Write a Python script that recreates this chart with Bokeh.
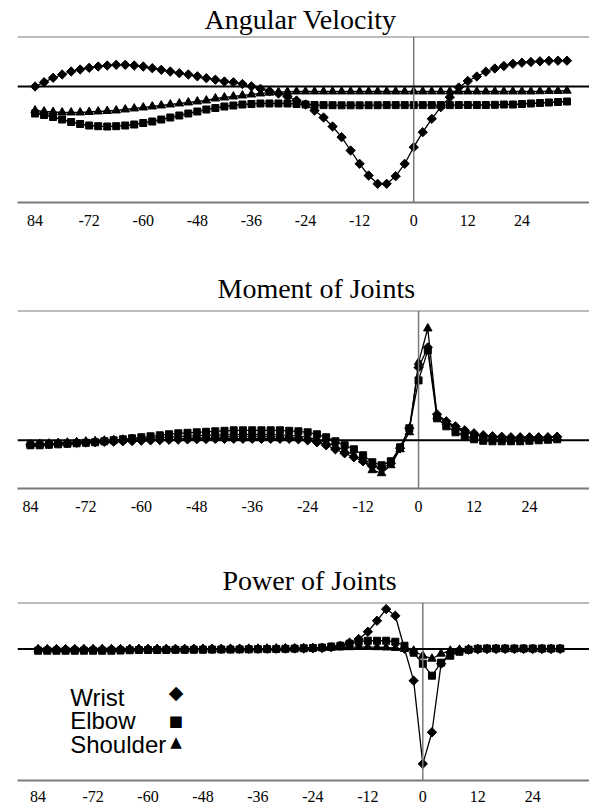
from bokeh.plotting import figure
from bokeh.layouts import column
from bokeh.models import Span, Label, FixedTicker, Range1d, Title
from bokeh.embed import file_html
from bokeh.resources import INLINE
import math

# ---------------- data ----------------
time_vel = list(range(-84, 36, 2))   # 60 samples
time_mp = list(range(-84, 32, 2))    # 58 samples

tick_values = [-84, -72, -60, -48, -36, -24, -12, 0, 12, 24]
tick_labels = ["84", "-72", "-60", "-48", "-36", "-24", "-12", "0", "12", "24"]

vel_wrist = [0.00, 0.43, 0.87, 1.20, 1.50, 1.70, 1.87, 2.00, 2.10, 2.17,
             2.17, 2.10, 2.00, 1.83, 1.67, 1.50, 1.33, 1.20, 1.02, 0.83,
             0.68, 0.50, 0.42, 0.25, 0.02, -0.23, -0.45, -0.70, -1.00, -1.40,
             -1.80, -2.40, -3.10, -4.00, -5.07, -6.40, -7.73, -8.90, -9.73, -9.73,
             -8.97, -7.73, -6.07, -4.57, -3.23, -2.07, -1.07, -0.10, 0.55, 1.00,
             1.48, 1.80, 2.05, 2.27, 2.38, 2.45, 2.52, 2.57, 2.58, 2.58]
vel_elbow = [-2.70, -2.85, -3.05, -3.30, -3.55, -3.75, -3.90, -3.97, -4.00, -3.97,
             -3.90, -3.80, -3.65, -3.50, -3.30, -3.10, -2.90, -2.70, -2.50, -2.30,
             -2.15, -2.00, -1.90, -1.80, -1.75, -1.70, -1.70, -1.70, -1.70, -1.75,
             -1.80, -1.85, -1.86, -1.87, -1.88, -1.88, -1.88, -1.87, -1.87, -1.86,
             -1.86, -1.86, -1.86, -1.86, -1.86, -1.86, -1.86, -1.85, -1.85, -1.85,
             -1.85, -1.83, -1.80, -1.80, -1.75, -1.70, -1.65, -1.60, -1.55, -1.50]
vel_shoulder = [-2.40, -2.50, -2.55, -2.60, -2.60, -2.60, -2.55, -2.50, -2.45, -2.40,
                -2.30, -2.20, -2.10, -2.00, -1.90, -1.80, -1.70, -1.60, -1.50, -1.40,
                -1.20, -1.10, -1.00, -0.90, -0.80, -0.70, -0.62, -0.56, -0.52, -0.50,
                -0.50, -0.50, -0.50, -0.50, -0.50, -0.50, -0.50, -0.50, -0.50, -0.50,
                -0.50, -0.50, -0.50, -0.50, -0.50, -0.50, -0.50, -0.50, -0.50, -0.50,
                -0.50, -0.50, -0.50, -0.50, -0.50, -0.50, -0.48, -0.46, -0.45, -0.42]

mom_wrist = [-0.40, -0.38, -0.35, -0.32, -0.30, -0.26, -0.23, -0.20, -0.16, -0.13,
             -0.10, -0.07, -0.04, -0.01, 0.02, 0.05, 0.07, 0.09, 0.11, 0.13,
             0.15, 0.15, 0.15, 0.15, 0.15, 0.15, 0.15, 0.15, 0.15, 0.10,
             0.00, -0.20, -0.50, -0.90, -1.30, -1.70, -2.10, -2.60, -2.80, -2.30,
             -0.80, 1.20, 7.30, 9.30, 2.60, 1.90, 1.40, 1.00, 0.70, 0.50,
             0.40, 0.35, 0.30, 0.30, 0.30, 0.30, 0.30, 0.35]
mom_elbow = [-0.50, -0.50, -0.45, -0.40, -0.35, -0.30, -0.25, -0.20, -0.10, 0.00,
             0.10, 0.20, 0.30, 0.40, 0.50, 0.60, 0.70, 0.75, 0.80, 0.85,
             0.90, 0.95, 1.00, 1.00, 1.00, 1.00, 1.00, 1.00, 0.95, 0.90,
             0.80, 0.60, 0.30, -0.10, -0.50, -0.90, -1.50, -2.20, -2.50, -2.10,
             -0.70, 1.20, 6.00, 9.00, 2.20, 1.40, 0.80, 0.40, 0.10, -0.05,
             -0.10, -0.10, -0.10, -0.10, -0.05, 0.00, 0.05, 0.10]
mom_shoulder = [-0.40, -0.37, -0.33, -0.28, -0.23, -0.18, -0.13, -0.08, -0.03, 0.02,
                0.07, 0.12, 0.17, 0.22, 0.27, 0.32, 0.37, 0.42, 0.46, 0.50,
                0.53, 0.55, 0.57, 0.58, 0.58, 0.58, 0.57, 0.55, 0.50, 0.42,
                0.30, 0.10, -0.20, -0.60, -1.00, -1.50, -2.00, -3.00, -3.30, -2.50,
                -0.90, 0.80, 7.80, 11.20, 2.40, 1.80, 1.30, 0.90, 0.60, 0.40,
                0.30, 0.25, 0.20, 0.20, 0.20, 0.20, 0.25, 0.30]

pow_wrist = [-0.03, -0.03, -0.02, -0.02, -0.02, -0.02, -0.02, -0.01, -0.01, -0.01,
             -0.01, 0.00, 0.00, 0.00, 0.00, 0.00, 0.00, 0.01, 0.01, 0.01,
             0.01, 0.01, 0.02, 0.02, 0.02, 0.03, 0.03, 0.04, 0.05, 0.06,
             0.07, 0.10, 0.18, 0.33, 0.63, 1.00, 1.73, 2.83, 4.00, 3.33,
             0.03, -3.17, -11.50, -8.34, -1.47, -0.37, -0.17, -0.07, -0.02, -0.01,
             0.00, 0.00, 0.00, 0.00, 0.00, 0.00, 0.00, 0.00]
pow_elbow = [-0.17, -0.17, -0.17, -0.17, -0.17, -0.17, -0.17, -0.17, -0.17, -0.15,
             -0.12, -0.10, -0.10, -0.10, -0.09, -0.08, -0.08, -0.07, -0.07, -0.06,
             -0.05, -0.05, -0.04, -0.03, -0.02, -0.01, 0.00, 0.02, 0.04, 0.07,
             0.10, 0.15, 0.25, 0.33, 0.53, 0.73, 0.83, 0.83, 0.83, 0.73,
             0.33, -0.37, -1.47, -2.67, -1.37, -0.67, -0.27, -0.07, 0.03, 0.05,
             0.05, 0.05, 0.05, 0.05, 0.05, 0.05, 0.05, 0.05]
pow_shoulder = [-0.05, -0.05, -0.05, -0.05, -0.05, -0.04, -0.04, -0.04, -0.03, -0.03,
                -0.03, -0.02, -0.02, -0.02, -0.01, -0.01, 0.00, 0.00, 0.00, 0.01,
                0.01, 0.02, 0.02, 0.03, 0.03, 0.04, 0.05, 0.06, 0.07, 0.08,
                0.09, 0.10, 0.12, 0.15, 0.18, 0.20, 0.20, 0.18, 0.15, 0.10,
                0.00, -0.17, -0.67, -0.97, -0.47, -0.17, -0.07, -0.02, 0.00, 0.01,
                0.01, 0.01, 0.01, 0.01, 0.01, 0.01, 0.01, 0.01]

legend_names = ["Wrist", "Elbow", "Shoulder"]
legend_keys = ["\u25C6", "\u25A0", "\u25B2"]

# ---------------- styling ----------------
GRAY = "#7a7a7a"
SERIF = "Liberation Serif"
SANS = "Liberation Sans"
W = 589
DIAMOND = ("square", 6.6, math.pi / 4)
SQUARE = ("square", 7, 0)
TRIANGLE = ("triangle", 8.5, 0)


def make_panel(title, title_off, title_standoff, xs, series, xr, yr, height, top,
               bottom, left, standoff):
    p = figure(width=W, height=height, x_range=Range1d(*xr), y_range=Range1d(*yr),
               output_backend="svg", toolbar_location=None, y_axis_location=None,
               min_border_top=top, min_border_bottom=bottom, min_border_left=left,
               min_border_right=0, outline_line_color=None,
               background_fill_color="white", border_fill_color="white",
               title=Title(text=title, align="left", offset=title_off,
                           standoff=title_standoff, text_font=SERIF,
                           text_font_size="28px", text_font_style="normal",
                           text_color="black"))
    p.xgrid.visible = False
    p.ygrid.visible = False
    ax = p.xaxis[0]
    ax.ticker = FixedTicker(ticks=tick_values)
    ax.major_label_overrides = dict(zip(tick_values, tick_labels))
    ax.major_label_text_font = SERIF
    ax.major_label_text_font_size = "16px"
    ax.major_label_text_color = "black"
    ax.major_label_standoff = standoff
    ax.major_tick_line_color = None
    ax.minor_tick_line_color = None
    ax.major_tick_out = 0
    ax.major_tick_in = 0
    ax.minor_tick_out = 0
    ax.minor_tick_in = 0
    ax.axis_line_color = GRAY
    ax.axis_line_width = 2

    p.add_layout(Span(location=yr[1], dimension="width", line_color=GRAY, line_width=2))
    p.add_layout(Span(location=0, dimension="height", line_color=GRAY, line_width=1.5))
    p.add_layout(Span(location=0, dimension="width", line_color="black", line_width=2))

    for vals, (marker, size, ang) in series:
        p.line(xs, vals, line_color="black", line_width=1.3)
        p.scatter(xs, vals, marker=marker, size=size, angle=ang, fill_color="black",
                  line_color="black")
    return p


p1 = make_panel("Angular Velocity", 187, 3, time_vel,
                [(vel_elbow, SQUARE), (vel_shoulder, TRIANGLE), (vel_wrist, DIAMOND)],
                (-87.9, 39.0), (-11.6, 5.0), 254, 36, 52, 13, 12)

p2 = make_panel("Moment of Joints", 200, 14, time_mp,
                [(mom_elbow, SQUARE), (mom_wrist, DIAMOND), (mom_shoulder, TRIANGLE)],
                (-86.8, 37.0), (-4.83, 13.0), 290, 56, 56, 17, 12)

p3 = make_panel("Power of Joints", 205, 14, time_mp,
                [(pow_shoulder, TRIANGLE), (pow_elbow, SQUARE), (pow_wrist, DIAMOND)],
                (-88.5, 36.4), (-13.17, 4.66), 265, 58, 29, 12, 10)

# legend (text labels with marker symbols to the right)
leg_text_y = [-4.85, -7.19, -9.52]
leg_key_y = [-4.34, -7.17, -9.34]
leg_key_size = ["19px", "15px", "15px"]
for name, ty, key, ky, ks in zip(legend_names, leg_text_y, legend_keys, leg_key_y, leg_key_size):
    p3.add_layout(Label(x=-77.0, y=ty, text=name, text_align="left",
                        text_baseline="alphabetic", text_font=SANS,
                        text_font_size="24px", text_color="black"))
    p3.add_layout(Label(x=-53.9, y=ky, text=key, text_align="center",
                        text_baseline="middle", text_font="DejaVu Sans",
                        text_font_size=ks, text_color="black"))

layout = column(p1, p2, p3)
open("out.html", "w").write(file_html(layout, INLINE))
